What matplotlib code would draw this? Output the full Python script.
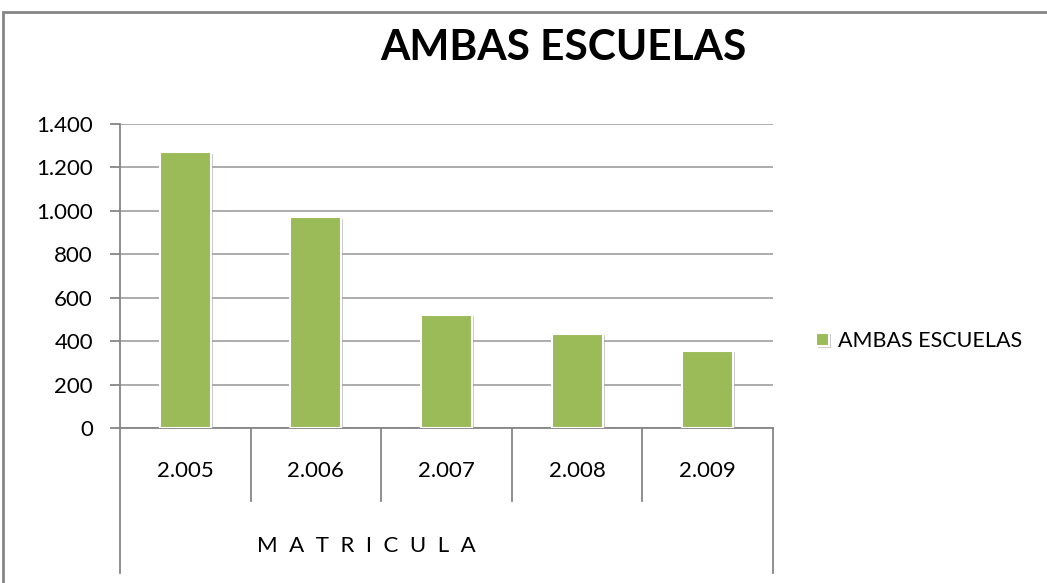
import matplotlib.pyplot as plt
from matplotlib import patheffects as pe
from matplotlib.transforms import blended_transform_factory
from matplotlib.patches import Rectangle
from matplotlib.ticker import FuncFormatter

plt.rcParams['font.family'] = ['Lato', 'DejaVu Sans']

years = ['2.005', '2.006', '2.007', '2.008', '2.009']
matricula = [1270, 970, 520, 435, 355]
series_name = 'AMBAS ESCUELAS'
group_label = 'M  A  T  R  I  C  U  L  A'

W, H = 1047, 583
fig = plt.figure(figsize=(W / 100, H / 100), dpi=100)
ax = fig.add_axes([120 / W, 1 - 428 / H, (773 - 120) / W, (428 - 124) / H])

x = range(len(years))
bars = ax.bar(x, matricula, width=0.39, color='#9BBB59', edgecolor='white',
              linewidth=1.5, zorder=3, label=series_name)
for b in bars:
    b.set_path_effects([pe.SimplePatchShadow(offset=(1.5, -1), shadow_rgbFace='#999999', alpha=0.5),
                        pe.Normal()])

ax.set_xlim(-0.5, len(years) - 0.5)
ax.set_ylim(0, 1400)
ax.set_yticks(range(0, 1401, 200))
ax.yaxis.set_major_formatter(FuncFormatter(lambda v, p: f'{int(v):,}'.replace(',', '.')))
ax.tick_params(axis='y', labelsize=16, length=7.5, width=1.3, color='#868686', pad=12)
ax.set_xticks([])
ax.grid(axis='y', color='#a6a6a6', linewidth=1.3, zorder=0)
for s in ['top', 'right']:
    ax.spines[s].set_visible(False)
ax.spines['left'].set_color('#868686')
ax.spines['bottom'].set_color('#868686')
ax.spines['left'].set_linewidth(1.3)
ax.spines['bottom'].set_linewidth(1.3)

# multi-level category axis
tr = blended_transform_factory(ax.transData, fig.transFigure)
n = len(years)
for i in range(n + 1):
    xb = i - 0.5
    y_end = 1 - 573 / H if i in (0, n) else 1 - 501 / H
    ax.plot([xb, xb], [1 - 428 / H, y_end], transform=tr, color='#868686',
            linewidth=1.3, clip_on=False)
for i, lab in enumerate(years):
    ax.text(i, 1 - 471 / H, lab, transform=tr, ha='center', va='center', fontsize=16)
fig.text(366 / W, 1 - 546 / H, group_label, ha='center', va='center', fontsize=16)

fig.text(563 / W, 1 - 48 / H, 'AMBAS ESCUELAS', ha='center', va='center',
         fontsize=30.5, fontweight='bold')

leg = fig.legend(handles=[bars], labels=[series_name], loc='center left',
                 bbox_to_anchor=(797 / W, 1 - 341 / H), frameon=False, fontsize=15.5,
                 handlelength=0.6, handleheight=0.6, handletextpad=0.4)

fig.patches.append(Rectangle((3 / W, -0.1), 1.2, 1 - 12 / H + 0.1, transform=fig.transFigure,
                             fill=False, edgecolor='#868686', linewidth=2))

fig.savefig('out.png', dpi=100)
